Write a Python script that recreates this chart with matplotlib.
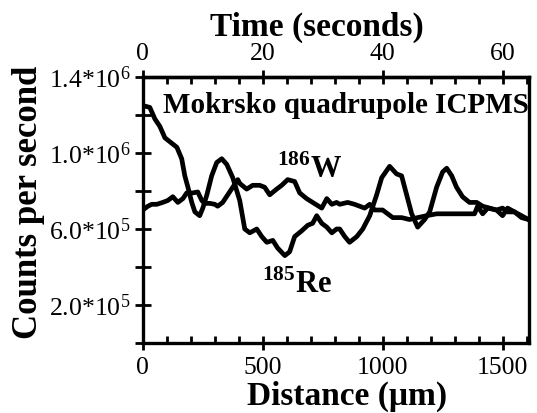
import matplotlib
matplotlib.use("Agg")
import matplotlib.pyplot as plt
from matplotlib.ticker import MultipleLocator, FixedLocator, FuncFormatter

plt.rcParams['font.family'] = ['Liberation Serif', 'DejaVu Serif']
plt.rcParams['mathtext.fontset'] = 'custom'
plt.rcParams['mathtext.rm'] = 'Liberation Serif'
plt.rcParams['mathtext.bf'] = 'Liberation Serif:bold'
plt.rcParams['xtick.labelsize'] = 18.5
plt.rcParams['ytick.labelsize'] = 18.5

# distance (um) and counts per second (in units of 1e5)
re_dist = [0, 29, 50, 71, 92, 112, 142, 162, 175, 188, 204, 217, 237, 250, 267,
           287, 308, 329, 350, 375, 404, 425, 446, 475, 496, 517, 542, 562, 592,
           612, 633, 662, 688, 708, 725, 746, 767, 788, 808, 821, 842, 862, 892,
           917, 946, 975, 996, 1029, 1058, 1079, 1100, 1121, 1146, 1175, 1196,
           1225, 1250, 1267, 1288, 1308, 1333, 1362, 1392, 1417, 1446, 1475,
           1500, 1521, 1550, 1579, 1608]
re_counts = [12.5, 12.4, 11.8, 11.4, 10.8, 10.6, 10.3, 9.7, 8.8, 8.2, 7.4, 6.9,
             6.7, 7.1, 7.8, 8.8, 9.5, 9.7, 9.4, 8.7, 7.5, 6.0, 5.8, 6.0, 5.6, 5.3,
             5.4, 5.0, 4.6, 4.8, 5.6, 5.9, 6.2, 6.3, 6.7, 6.3, 6.1, 5.8, 6.0, 6.0,
             5.6, 5.3, 5.6, 6.0, 6.7, 7.8, 8.7, 9.3, 8.9, 8.8, 7.8, 6.8, 6.1, 6.5,
             6.9, 8.2, 9.0, 9.2, 8.8, 8.2, 7.7, 7.4, 7.4, 7.2, 7.1, 7.0, 7.1, 6.9,
             6.9, 6.7, 6.5]

w_dist = [0, 21, 37, 58, 83, 104, 125, 146, 167, 183, 208, 229, 246, 258, 279,
          300, 312, 333, 354, 375, 396, 404, 433, 458, 487, 508, 529, 558, 579,
          604, 633, 654, 683, 708, 746, 767, 788, 808, 821, 854, 883, 925, 946,
          967, 1000, 1042, 1079, 1112, 1146, 1183, 1225, 1258, 1312, 1362, 1383,
          1396, 1417, 1438, 1475, 1500, 1521, 1550, 1579, 1608]
w_counts = [7.0, 7.2, 7.3, 7.3, 7.4, 7.5, 7.7, 7.4, 7.6, 7.9, 7.9, 7.95, 7.5,
            7.35, 7.35, 7.3, 7.2, 7.4, 7.8, 8.2, 8.6, 8.4, 8.1, 8.3, 8.3, 8.2,
            7.8, 8.1, 8.3, 8.6, 8.5, 7.9, 7.6, 7.4, 7.1, 7.6, 7.3, 7.4, 7.3, 7.4,
            7.3, 7.1, 7.3, 7.0, 7.0, 6.6, 6.6, 6.5, 6.6, 6.7, 6.8, 6.8, 6.8, 6.8,
            6.8, 7.2, 6.8, 7.1, 7.0, 6.7, 7.1, 6.9, 6.6, 6.5]

time_ticks = [0, 20, 40, 60]
um_per_s = 25.0

fig = plt.figure(figsize=(5.37, 4.13), dpi=100)
ax = fig.add_axes([0.266, 0.1695, 0.719, 0.644])

ax.plot(re_dist, [v * 1e5 for v in re_counts], color='black', lw=3.4,
        solid_joinstyle='round')
ax.plot(w_dist, [v * 1e5 for v in w_counts], color='black', lw=3.4,
        solid_joinstyle='round')

ax.set_xlim(0, 1610)
ax.set_ylim(0, 1.4e6)

for s in ax.spines.values():
    s.set_linewidth(2.4)

ax.xaxis.set_major_locator(MultipleLocator(500))
ax.xaxis.set_minor_locator(MultipleLocator(100))
ax.yaxis.set_major_locator(MultipleLocator(2e5))


def ylab(v, pos):
    lbl = {2e5: '2.0', 6e5: '6.0', 10e5: '1.0', 14e5: '1.4'}
    exps = {2e5: 5, 6e5: 5, 10e5: 6, 14e5: 6}
    for k in lbl:
        if abs(v - k) < 1:
            return r'$\mathregular{%s{*}10^{%d}}$' % (lbl[k], exps[k])
    return ''


ax.yaxis.set_major_formatter(FuncFormatter(ylab))
ax.tick_params(axis='y', which='major', direction='inout', length=12,
               width=2, labelsize=18.5, pad=3, right=False)
ax.tick_params(axis='x', which='major', direction='inout', length=10,
               width=2, labelsize=18.5, pad=5)
ax.tick_params(axis='x', which='minor', direction='in', length=5, width=2)

top = ax.secondary_xaxis('top', functions=(lambda d: d / um_per_s,
                                           lambda t: t * um_per_s))
top.spines['top'].set_linewidth(2.4)
top.xaxis.set_major_locator(FixedLocator(time_ticks))
top.xaxis.set_minor_locator(FixedLocator(list(range(0, 65, 4))))
top.tick_params(axis='x', which='major', direction='inout', length=10,
                width=2, labelsize=18.5, pad=4)
top.tick_params(axis='x', which='minor', direction='in', length=5, width=2)
top.set_xlabel('Time (seconds)', fontsize=24, fontweight='bold',
               labelpad=5, x=0.45)

ax.set_xlabel('Distance (μm)', fontsize=24, fontweight='bold', labelpad=1,
              x=0.53)
ax.set_ylabel('Counts per second', fontsize=25, fontweight='bold', labelpad=3,
              y=0.53)

ax.text(83, 1.21e6, 'Mokrsko quadrupole ICPMS', fontsize=21,
        fontweight='bold', ha='left', va='baseline')
ax.text(560, 8.68e5, r'$^{\mathbf{186}}\mathbf{W}$', fontsize=22,
        ha='left', va='baseline')
ax.text(497, 2.63e5, r'$^{\mathbf{185}}\mathbf{Re}$', fontsize=22,
        ha='left', va='baseline')

fig.savefig('out.png', dpi=100)
